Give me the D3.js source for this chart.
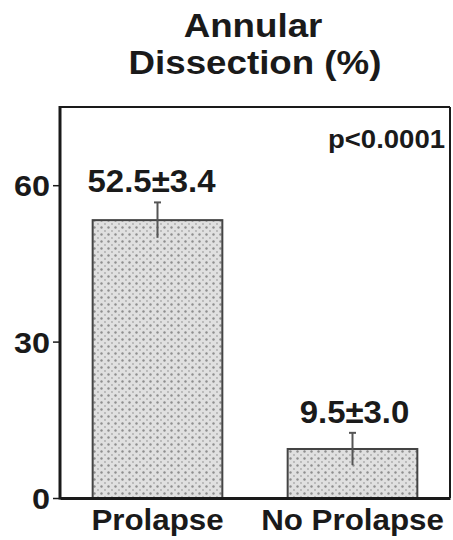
<!DOCTYPE html>
<html><head><meta charset="utf-8">
<script src="https://cdn.jsdelivr.net/npm/d3@7"></script>
<style>html,body{margin:0;padding:0;background:#fff;} svg{display:block;}</style>
</head><body>
<script>
const categories = ["Prolapse", "No Prolapse"];
const means = [53.3, 9.4];
const errors = [3.4, 3.1];
const valueLabels = ["52.5\u00b13.4", "9.5\u00b13.0"];
const yTicks = [0, 30, 60];
const titleLines = ["Annular", "Dissection (%)"];
const pText = "p<0.0001";

const W = 453, H = 540;
const m = {left: 60, right: 3, top: 107, bottom: 42};
const svg = d3.select("body").append("svg").attr("width", W).attr("height", H);
const FONT = "'Liberation Sans', Arial, Helvetica, sans-serif";
const SX = 1.08;

const defs = svg.append("defs");
const pat = defs.append("pattern").attr("id", "dots").attr("patternUnits", "userSpaceOnUse")
  .attr("width", 7).attr("height", 7);
pat.append("rect").attr("width", 7).attr("height", 7).attr("fill", "#e0e0e0");
pat.append("circle").attr("cx", 3.5).attr("cy", 3.5).attr("r", 1.2).attr("fill", "#8e8e8e");
[[0,0],[7,0],[0,7],[7,7]].forEach(p => pat.append("circle").attr("cx", p[0]).attr("cy", p[1]).attr("r", 0.9).attr("fill", "#aaaaaa"));

const x = d3.scaleBand().domain(categories).range([m.left, W - m.right])
  .paddingInner(0.335).paddingOuter(0.1675);
const y = d3.scaleLinear().domain([0, 75]).range([H - m.bottom, m.top]);

function stext(g, str, px, py, size, anchor) {
  const t = g.append("g").attr("transform", `translate(${px},${py}) scale(${SX},1)`);
  t.append("text").attr("x", 0).attr("y", 0).attr("text-anchor", anchor || "middle")
    .attr("font-family", FONT).attr("font-weight", "bold").attr("font-size", size)
    .attr("fill", "#1a1a1a").text(str);
}

// title
stext(svg, titleLines[0], 253, 37, 34);
stext(svg, titleLines[1], 255, 74, 34);

// frame top & right
svg.append("line").attr("x1", m.left).attr("x2", W - m.right).attr("y1", y(75)).attr("y2", y(75))
  .attr("stroke", "#1a1a1a").attr("stroke-width", 2);
svg.append("line").attr("x1", W - m.right).attr("x2", W - m.right).attr("y1", y(75)).attr("y2", y(0))
  .attr("stroke", "#1a1a1a").attr("stroke-width", 2);

// bars
const bars = svg.append("g");
categories.forEach((c, i) => {
  bars.append("rect").attr("x", x(c)).attr("y", y(means[i]))
    .attr("width", x.bandwidth()).attr("height", y(0) - y(means[i]))
    .attr("fill", "url(#dots)").attr("stroke", "#444").attr("stroke-width", 2);
  const cx = x(c) + x.bandwidth() / 2;
  bars.append("line").attr("x1", cx).attr("x2", cx)
    .attr("y1", y(means[i] + errors[i])).attr("y2", y(means[i] - errors[i]))
    .attr("stroke", "#555").attr("stroke-width", 2);
  bars.append("line").attr("x1", cx - 3.5).attr("x2", cx + 3.5)
    .attr("y1", y(means[i] + errors[i])).attr("y2", y(means[i] + errors[i]))
    .attr("stroke", "#555").attr("stroke-width", 2);
  stext(svg, valueLabels[i], cx - (i === 0 ? 6 : -2), y(means[i] + errors[i]) - 10, 30.5);
  stext(svg, c, cx, 530, 29);
});

// y axis
const yAxis = d3.axisLeft(y).tickValues(yTicks).tickSize(7).tickFormat("");
const ga = svg.append("g").attr("transform", `translate(${m.left},0)`).call(yAxis);
ga.select(".domain").remove();
ga.selectAll(".tick line").attr("stroke", "#1a1a1a").attr("stroke-width", 1.5);
yTicks.forEach(v => stext(svg, String(v), 50, y(v) + 11, 30, "end"));

svg.append("line").attr("x1", m.left).attr("x2", m.left).attr("y1", y(75) - 1).attr("y2", y(0) + 1.5)
  .attr("stroke", "#1a1a1a").attr("stroke-width", 3);
const xAxis = d3.axisBottom(x).tickSize(0).tickFormat("");
const gx = svg.append("g").attr("transform", `translate(0,${y(0)})`).call(xAxis);
gx.select(".domain").attr("stroke", "#1a1a1a").attr("stroke-width", 3);

// p-value
stext(svg, pText, 445, 148, 25.5, "end");
</script>
</body></html>
